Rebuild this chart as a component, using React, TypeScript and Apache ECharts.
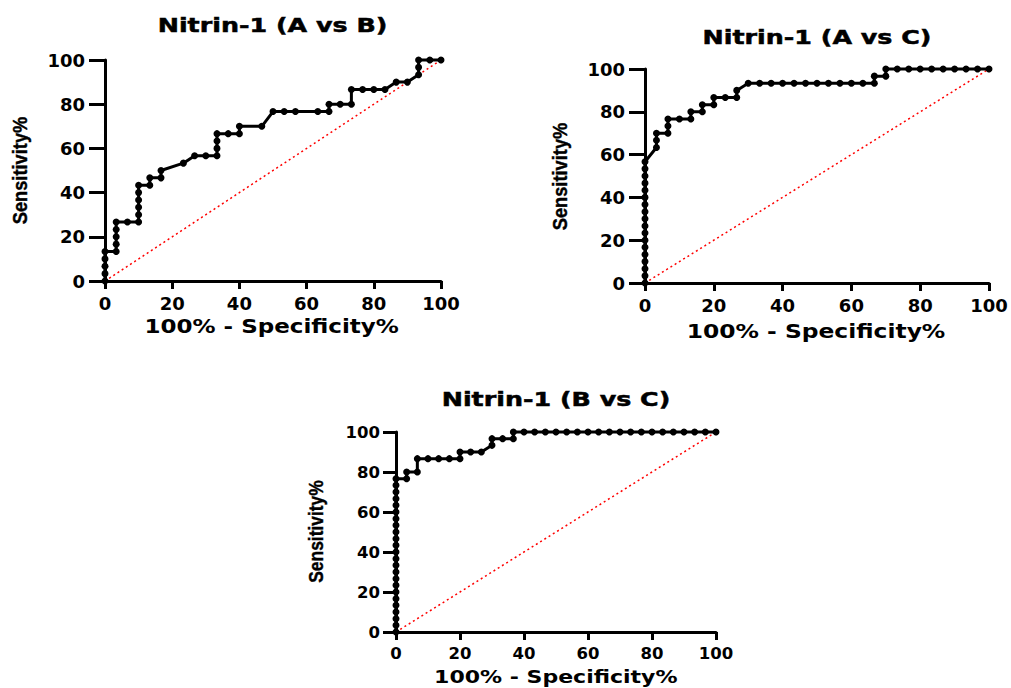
import React, { useEffect, useRef } from "react";
import * as echarts from "echarts";

// ROC curve points: [100% - Specificity%, Sensitivity%]
const rocAB: number[][] = [
  [0, 0], [0, 3.33], [0, 6.67], [0, 10], [0, 13.33],
  [3.33, 13.33], [3.33, 16.67], [3.33, 20], [3.33, 23.33], [3.33, 26.67],
  [6.67, 26.67], [10, 26.67], [10, 30], [10, 33.33], [10, 36.67], [10, 40], [10, 43.33],
  [13.33, 43.33], [13.33, 46.67], [16.67, 46.67], [16.67, 50],
  [23.33, 53.33], [26.67, 56.67], [30, 56.67], [33.33, 56.67], [33.33, 60], [33.33, 63.33], [33.33, 66.67],
  [36.67, 66.67], [40, 66.67], [40, 70], [46.67, 70],
  [50, 76.67], [53.33, 76.67], [56.67, 76.67], [63.33, 76.67], [66.67, 76.67], [66.67, 80],
  [70, 80], [73.33, 80], [73.33, 86.67], [76.67, 86.67], [80, 86.67], [83.33, 86.67],
  [86.67, 90], [90, 90], [93.33, 93.33], [93.33, 96.67], [93.33, 100], [96.67, 100], [100, 100],
];

const rocAC: number[][] = [
  [0, 0], [0, 3.33], [0, 6.67], [0, 10], [0, 13.33], [0, 16.67], [0, 20], [0, 23.33], [0, 26.67],
  [0, 30], [0, 33.33], [0, 36.67], [0, 40], [0, 43.33], [0, 46.67], [0, 50], [0, 53.33], [0, 56.67],
  [3.33, 63.33], [3.33, 66.67], [3.33, 70], [6.67, 70], [6.67, 73.33], [6.67, 76.67],
  [10, 76.67], [13.33, 76.67], [13.33, 80], [16.67, 80], [16.67, 83.33], [20, 83.33], [20, 86.67],
  [23.33, 86.67], [26.67, 86.67], [26.67, 90], [30, 93.33], [33.33, 93.33], [36.67, 93.33],
  [40, 93.33], [43.33, 93.33], [46.67, 93.33], [50, 93.33], [53.33, 93.33], [56.67, 93.33],
  [60, 93.33], [63.33, 93.33], [66.67, 93.33], [66.67, 96.67], [70, 96.67], [70, 100],
  [73.33, 100], [76.67, 100], [80, 100], [83.33, 100], [86.67, 100], [90, 100], [93.33, 100],
  [96.67, 100], [100, 100],
];

const rocBC: number[][] = [
  [0, 0], [0, 3.33], [0, 6.67], [0, 10], [0, 13.33], [0, 16.67], [0, 20], [0, 23.33], [0, 26.67],
  [0, 30], [0, 33.33], [0, 36.67], [0, 40], [0, 43.33], [0, 46.67], [0, 50], [0, 53.33], [0, 56.67],
  [0, 60], [0, 63.33], [0, 66.67], [0, 70], [0, 73.33], [0, 76.67],
  [3.33, 76.67], [3.33, 80], [6.67, 80], [6.67, 86.67], [10, 86.67], [13.33, 86.67], [16.67, 86.67],
  [20, 86.67], [20, 90], [23.33, 90], [26.67, 90], [30, 93.33], [30, 96.67], [33.33, 96.67],
  [36.67, 96.67], [36.67, 100], [40, 100], [43.33, 100], [46.67, 100], [50, 100], [53.33, 100],
  [56.67, 100], [60, 100], [63.33, 100], [66.67, 100], [70, 100], [73.33, 100], [76.67, 100],
  [80, 100], [83.33, 100], [86.67, 100], [90, 100], [93.33, 100], [96.67, 100], [100, 100],
];

const referenceLine: number[][] = [[0, 0], [100, 100]];

const titles = ["Nitrin-1 (A vs B)", "Nitrin-1 (A vs C)", "Nitrin-1 (B vs C)"];
const xName = "100% - Specificity%";
const yName = "Sensitivity%";

const WIDE = "'DejaVu Sans', sans-serif";
const ARIAL = "'Liberation Sans', Arial, sans-serif";

const panels = [
  { data: rocAB, grid: { left: 105, top: 60, width: 336, height: 221 }, title: [272.5, 25], xn: [271.7, 326, 1.15], yn: [20, 170.5], tickY: 16, lab: 18, ymargin: 20 },
  { data: rocAC, grid: { left: 645, top: 69, width: 344, height: 214 }, title: [817, 37], xn: [816, 331, 1.17], yn: [560, 176.5], tickY: 16, lab: 18, ymargin: 20 },
  { data: rocBC, grid: { left: 396, top: 432, width: 320, height: 200 }, title: [556, 399.5], xn: [555.8, 676.7, 1.19], yn: [316, 531.5], tickY: 13, lab: 16.5, ymargin: 16 },
];

export default function App() {
  const ref = useRef<HTMLDivElement>(null);
  useEffect(() => {
    if (!ref.current) return;
    const chart = echarts.init(ref.current, null, { renderer: "svg" });
    const grids = panels.map((p) => ({ ...p.grid, containLabel: false }));
    const xAxes = panels.map((p, i) => ({
      type: "value",
      gridIndex: i,
      min: 0,
      max: 100,
      interval: 20,
      axisLine: { show: true, onZero: false, lineStyle: { color: "#000", width: 3 } },
      axisTick: { show: true, length: 8, lineStyle: { color: "#000", width: 3 } },
      axisLabel: { margin: 13, color: "#000", fontFamily: WIDE, fontWeight: "bold", fontSize: p.lab },
      splitLine: { show: false },
    }));
    const yAxes = panels.map((p, i) => ({
      type: "value",
      gridIndex: i,
      min: 0,
      max: 100,
      interval: 20,
      axisLine: { show: true, onZero: false, lineStyle: { color: "#000", width: 3 } },
      axisTick: { show: true, length: p.tickY, lineStyle: { color: "#000", width: 3 } },
      axisLabel: { margin: p.ymargin, color: "#000", fontFamily: WIDE, fontWeight: "bold", fontSize: p.lab },
      splitLine: { show: false },
    }));
    const series: any[] = [];
    panels.forEach((p, i) => {
      series.push({
        type: "line",
        xAxisIndex: i,
        yAxisIndex: i,
        data: referenceLine,
        symbol: "none",
        z: 1,
        clip: false,
        lineStyle: { color: "#ff0000", width: 1.5, type: [2, 3] },
      });
      series.push({
        type: "line",
        xAxisIndex: i,
        yAxisIndex: i,
        data: p.data,
        symbol: "circle",
        symbolSize: 7,
        showSymbol: true,
        z: 3,
        clip: false,
        itemStyle: { color: "#000" },
        lineStyle: { color: "#000", width: 3 },
      });
    });
    const graphic: any[] = [];
    panels.forEach((p, i) => {
      graphic.push({
        type: "text",
        x: p.title[0],
        y: p.title[1],
        scaleX: 1.3,
        style: { text: titles[i], font: `bold 19.5px ${WIDE}`, fill: "#000", stroke: "#000", lineWidth: 0.5, textAlign: "center", textVerticalAlign: "middle" },
      });
      graphic.push({
        type: "text",
        x: p.xn[0],
        y: p.xn[1],
        scaleX: p.xn[2],
        style: { text: xName, font: `bold ${i === 2 ? 18.5 : 20}px ${WIDE}`, fill: "#000", textAlign: "center", textVerticalAlign: "middle" },
      });
      graphic.push({
        type: "text",
        x: p.yn[0],
        y: p.yn[1],
        rotation: Math.PI / 2,
        scaleX: 0.87,
        style: { text: yName, font: `bold ${i === 2 ? 20 : 21}px ${ARIAL}`, fill: "#000", stroke: "#000", lineWidth: 0.4, textAlign: "center", textVerticalAlign: "middle" },
      });
    });
    chart.setOption({
      animation: false,
      backgroundColor: "#fff",
      grid: grids,
      xAxis: xAxes,
      yAxis: yAxes,
      series,
      graphic,
    });
    return () => chart.dispose();
  }, []);
  return <div ref={ref} style={{ position: "fixed", left: 0, top: 0, width: 1011, height: 688 }} />;
}
